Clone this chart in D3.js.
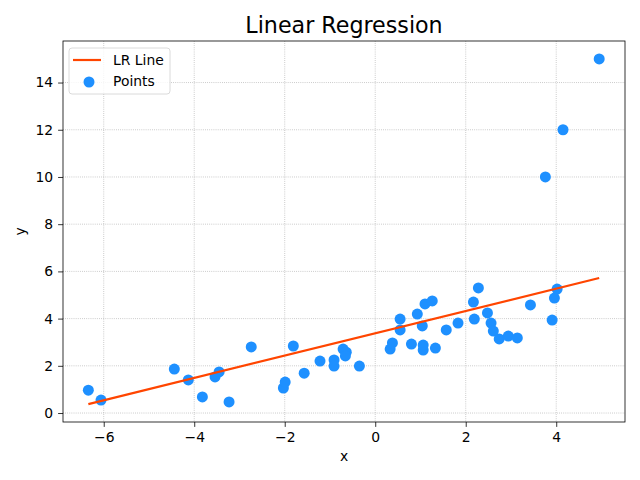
<!DOCTYPE html>
<html><head><meta charset="utf-8">
<script src="https://cdn.jsdelivr.net/npm/d3@7"></script>
<style>body{margin:0;background:#fff}svg{display:block}text{font-family:"DejaVu Sans",sans-serif;fill:#000}</style>
</head><body>
<svg id="c" width="640" height="480"></svg>
<script>
const pointsX = [-6.34,-6.06,-4.44,-4.13,-3.82,-3.54,-3.45,-3.23,-2.74,-2.03,-1.99,-1.81,-1.57,-1.22,-0.91,-0.91,-0.71,-0.64,-0.66,-0.35,0.33,0.38,0.55,0.55,0.80,0.93,1.04,1.06,1.06,1.10,1.26,1.33,1.57,1.83,2.17,2.19,2.28,2.48,2.56,2.61,2.74,2.94,3.14,3.43,3.76,3.91,3.96,4.02,4.15,4.95];
const pointsY = [0.97,0.55,1.86,1.40,0.68,1.53,1.74,0.47,2.80,1.06,1.31,2.84,1.69,2.20,2.25,1.99,2.71,2.58,2.42,1.99,2.71,2.97,3.98,3.52,2.92,4.19,3.69,2.67,2.88,4.62,4.75,2.75,3.52,3.81,4.70,3.98,5.30,4.24,3.81,3.47,3.14,3.26,3.18,4.58,10.0,3.94,4.87,5.25,12.0,15.0];
const lineX = [-6.34, 4.95];
const lineY = [0.38, 5.72];
const xTicks = [-6,-4,-2,0,2,4];
const yTicks = [0,2,4,6,8,10,12,14];
const legendLabels = ["LR Line","Points"];

const L=63,R=625,T=41,B=422;
const svg=d3.select("#c");
const x=d3.scaleLinear().domain([-6.9,5.52]).range([L,R]);
const y=d3.scaleLinear().domain([-0.38,15.76]).range([B,T]);

// grid
const g=svg.append("g");
g.selectAll(".gx").data(xTicks).enter().append("line")
 .attr("x1",d=>x(d)).attr("x2",d=>x(d)).attr("y1",T).attr("y2",B)
 .attr("stroke","#b0b0b0").attr("stroke-width",0.8).attr("stroke-dasharray","0.8,1.32");
g.selectAll(".gy").data(yTicks).enter().append("line")
 .attr("y1",d=>y(d)).attr("y2",d=>y(d)).attr("x1",L).attr("x2",R)
 .attr("stroke","#b0b0b0").attr("stroke-width",0.8).attr("stroke-dasharray","0.8,1.32");

// axes
const xa=svg.append("g").attr("transform",`translate(0,${B})`)
 .call(d3.axisBottom(x).tickValues(xTicks).tickSize(4.9).tickPadding(4.9).tickFormat(d=>d<0?"\u2212"+Math.abs(d):d));
const ya=svg.append("g").attr("transform",`translate(${L},0)`)
 .call(d3.axisLeft(y).tickValues(yTicks).tickSize(4.9).tickPadding(4.9));
[xa,ya].forEach(a=>{a.select(".domain").remove();a.selectAll("text").style("font-size","13.9px").attr("fill","#000");a.selectAll("line").attr("stroke","#000").attr("stroke-width",0.8);});

// points
svg.append("g").selectAll("circle").data(pointsX.map((d,i)=>[d,pointsY[i]])).enter().append("circle")
 .attr("cx",d=>x(d[0])).attr("cy",d=>y(d[1])).attr("r",5.5).attr("fill","#1e90ff");

// line
svg.append("path").datum(lineX.map((d,i)=>[d,lineY[i]]))
 .attr("d",d3.line().x(d=>x(d[0])).y(d=>y(d[1])))
 .attr("stroke","#ff4500").attr("stroke-width",2.2).attr("fill","none");

// frame
svg.append("rect").attr("x",L).attr("y",T).attr("width",R-L).attr("height",B-T)
 .attr("fill","none").attr("stroke","#000").attr("stroke-width",0.8);

// title & labels
svg.append("text").attr("x",(L+R)/2).attr("y",33).attr("text-anchor","middle").style("font-size","22.2px").text("Linear Regression");
svg.append("text").attr("x",(L+R)/2).attr("y",461).attr("text-anchor","middle").style("font-size","13.9px").text("x");
svg.append("text").attr("transform",`translate(25,${(T+B)/2}) rotate(-90)`).attr("text-anchor","middle").style("font-size","13.9px").text("y");

// legend
const lg=svg.append("g");
lg.append("rect").attr("x",69).attr("y",48).attr("width",101).attr("height",46).attr("rx",3)
 .attr("fill","#fff").attr("fill-opacity",0.8).attr("stroke","#d0d0d0").attr("stroke-width",0.8);
lg.append("line").attr("x1",73).attr("x2",101).attr("y1",60).attr("y2",60).attr("stroke","#ff4500").attr("stroke-width",2.2);
lg.append("circle").attr("cx",89).attr("cy",82).attr("r",5.5).attr("fill","#1e90ff");
lg.selectAll("text").data(legendLabels).enter().append("text")
 .attr("x",113).attr("y",(d,i)=>65+i*21).style("font-size","13.9px").text(d=>d);
</script>
</body></html>
